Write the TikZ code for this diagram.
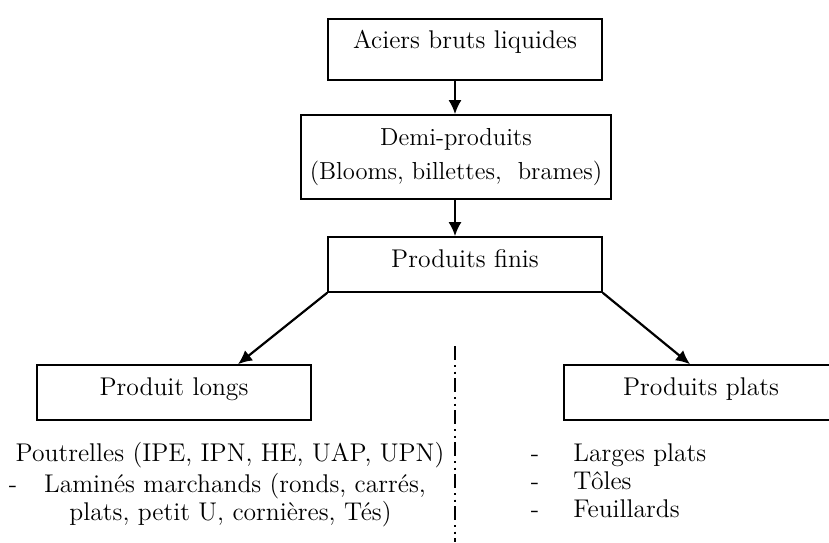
\documentclass[tikz,12pt,border=0pt]{standalone}
\usepackage{fontspec}
\usepackage{tikz}
\usetikzlibrary{calc,positioning,arrows.meta}

\begin{document}
\begin{tikzpicture}[x=0.5pt,y=-0.5pt,font=\fontsize{12.8}{15.5}\selectfont,box/.style={draw,line width=0.8pt,inner ysep=0pt,minimum width=137pt,text height=15pt,text depth=12.5pt},arr/.style={-{Latex[length=7pt,width=6.5pt]},line width=1.1pt},sep/.style={line width=0.6pt,dash pattern=on 7pt off 2.5pt on 1pt off 2.3pt on 1pt off 2.2pt},item/.style={inner sep=0pt}]
  \useasboundingbox (0,0) rectangle (829,542);
  \coordinate (spine) at (455,0);

  \node[box,text height=14.5pt,text depth=16pt] (acier) at (465,49.5) {Aciers bruts liquides};
  \node[box,align=center,minimum width=155pt,minimum height=42pt,text height=,text depth=,inner ysep=2pt,inner xsep=0pt,font=\fontsize{12.3}{15.5}\selectfont] (demi) at (456,157) {Demi-produits\\[1.5pt](Blooms, billettes,\ \ brames)};
  \node[box] (finis) at (465,264.5) {Produits finis};
  \node[box] (longs) at (174,392.5) {Produit longs};
  \node[box] (plats) at (701,392.5) {Produits plats};

  \draw[arr] (acier.south -| spine) -- (demi.north -| spine);
  \draw[arr] (demi.south -| spine) -- (finis.north -| spine);
  \draw[arr] (finis.south west) -- ([xshift=32pt]longs.north);
  \draw[arr] (finis.south east) -- ([xshift=-5.5pt]plats.north);

  \coordinate (sepT) at (455,346);
  \coordinate (sepB) at (455,542);
  \draw[sep] (sepT) -- (sepB);

  \node[item,anchor=base] (pout) at (230,461) {Poutrelles (IPE, IPN, HE, UAP, UPN)};
  \node[item,anchor=base] (dl1) at (13,492) {-};
  \node[item,anchor=base] (lam) at (235,492) {Laminés marchands (ronds, carrés,};
  \node[item,anchor=base] (lam2) at (230.5,520) {plats, petit U, cornières, Tés)};

  \node[item,anchor=base] (dr1) at (535,461) {-};
  \node[item,anchor=base] (dr2) at (535,489) {-};
  \node[item,anchor=base] (dr3) at (535,517) {-};
  \node[item,anchor=base west] (larg) at (573,461) {Larges plats};
  \node[item,anchor=base west] (tole) at (573,489) {Tôles};
  \node[item,anchor=base west] (feui) at (573,517) {Feuillards};
\end{tikzpicture}
\end{document}
